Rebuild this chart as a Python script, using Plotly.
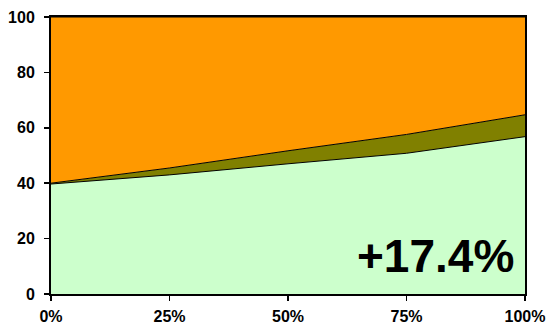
import plotly.graph_objects as go

x_vals = [0, 25, 50, 75, 100]
x_labels = ["0%", "25%", "50%", "75%", "100%"]
green_vals = [39.7, 43.0, 47.0, 50.8, 56.8]
olive_vals = [0.3, 2.5, 4.7, 6.8, 7.9]
orange_vals = [100 - g - o for g, o in zip(green_vals, olive_vals)]
y_ticks = [0, 20, 40, 60, 80, 100]
label_text = "+17.4%"

fig = go.Figure()
for vals, color in [(green_vals, "#CCFFCC"), (olive_vals, "#808000"), (orange_vals, "#FF9900")]:
    fig.add_trace(go.Scatter(
        x=x_vals, y=vals, mode="lines", stackgroup="one",
        fillcolor=color, line=dict(color="black", width=1),
        hoverinfo="skip", showlegend=False,
    ))

fig.add_annotation(
    x=0.981, y=0.137, xref="paper", yref="paper",
    text="<b>" + label_text + "</b>", showarrow=False,
    xanchor="right", yanchor="middle",
    font=dict(family="Liberation Sans, Arial", size=46, color="black"),
)

axis_font = dict(family="Liberation Sans, Arial", size=16, color="black")
fig.update_layout(
    width=547, height=326,
    margin=dict(l=51, r=22, t=17, b=32),
    paper_bgcolor="white", plot_bgcolor="white",
    xaxis=dict(
        range=[0, 100], tickvals=x_vals, ticktext=["<b>%s</b>" % t for t in x_labels],
        showgrid=False, zeroline=False, showline=True, linecolor="black", linewidth=2,
        mirror=True, ticks="outside", ticklen=5, tickcolor="black", tickwidth=1.5,
        tickfont=axis_font, automargin=False, ticklabelstandoff=2,
    ),
    yaxis=dict(
        range=[0, 100], tickvals=y_ticks, ticktext=["<b>%d</b>" % t for t in y_ticks],
        showgrid=False, zeroline=False, showline=True, linecolor="black", linewidth=2,
        mirror=True, ticks="outside", ticklen=5, tickcolor="black", tickwidth=1.5,
        tickfont=axis_font, automargin=False, ticklabelstandoff=6,
    ),
)

fig.write_html(
    "out.html",
    config={"displayModeBar": False, "staticPlot": True},
    post_script="document.body.style.margin='0';document.body.style.overflow='hidden';",
)
